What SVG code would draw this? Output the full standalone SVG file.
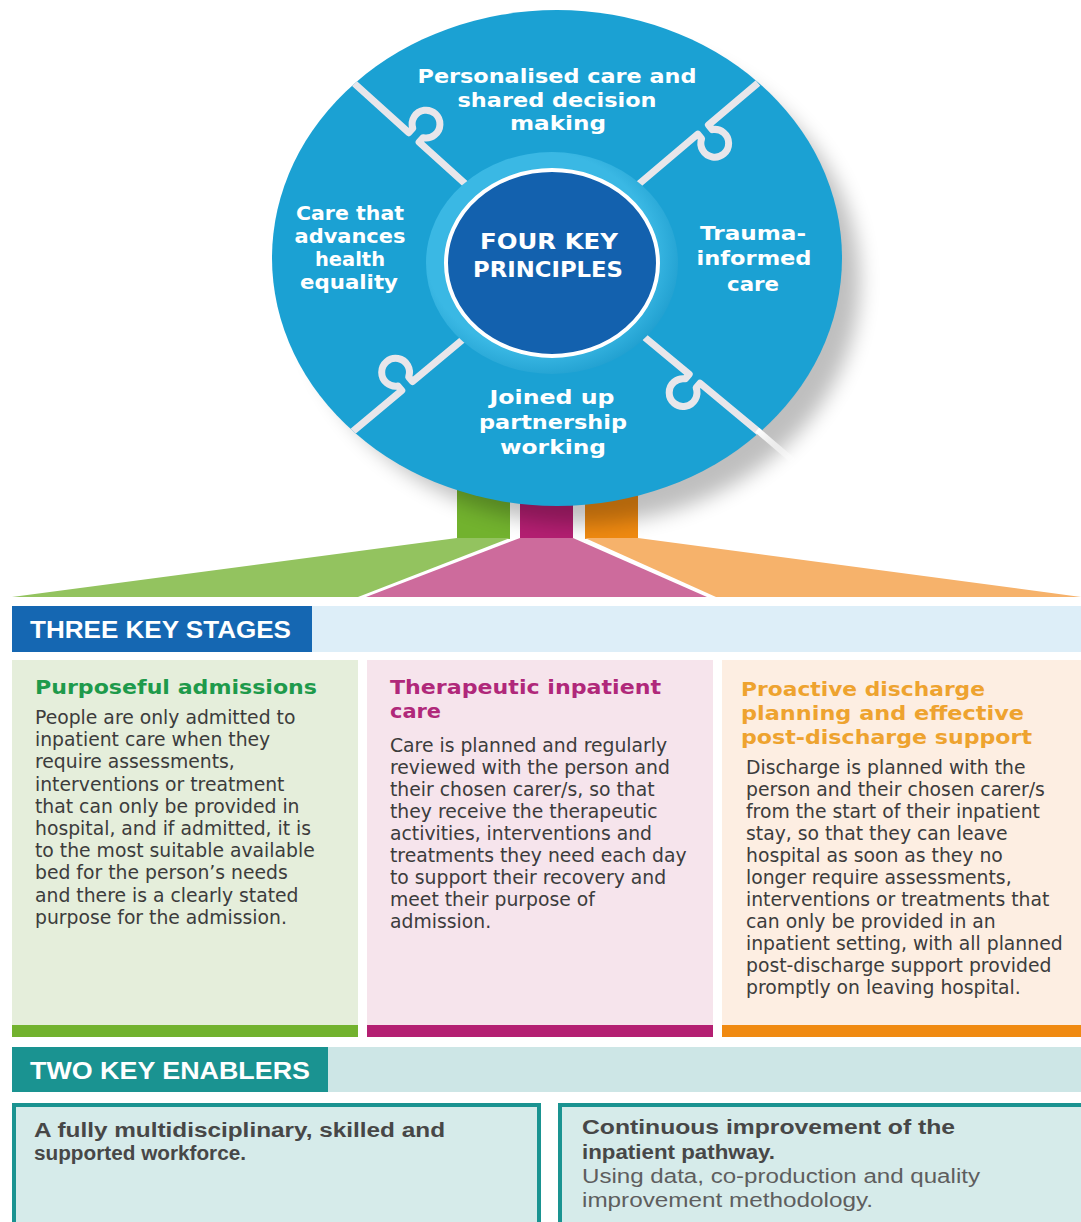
<svg xmlns="http://www.w3.org/2000/svg" width="1081" height="1222" viewBox="0 0 1081 1222">
<defs>
<style>
.ct{font-family:"DejaVu Sans","Open Sans",sans-serif;font-weight:700;fill:#fff;font-size:20px;text-anchor:middle}
.core{font-family:"DejaVu Sans","Open Sans",sans-serif;font-weight:700;fill:#fff;font-size:21px;text-anchor:middle}
.hdr{font-family:"Liberation Sans",Arial,sans-serif;font-weight:700;fill:#fff;font-size:23px}
.st{font-family:"DejaVu Sans","Open Sans",sans-serif;font-weight:700;font-size:20px}
.bd{font-family:"DejaVu Sans","Open Sans",sans-serif;font-size:18.8px;fill:#3c3c3c}
.eb{font-family:"Liberation Sans",Arial,sans-serif;font-weight:700;font-size:20px;fill:#474747}
.er{font-family:"Liberation Sans",Arial,sans-serif;font-size:20px;fill:#5e5e5e}
.div{fill:none;stroke:#e8e6ea;stroke-width:7;stroke-linejoin:round}
</style>
<clipPath id="outerClip"><ellipse cx="557" cy="258" rx="285" ry="248"/></clipPath>
<filter id="blur" x="-20%" y="-20%" width="140%" height="140%"><feGaussianBlur stdDeviation="10"/></filter>
<linearGradient id="streak" x1="0" y1="0" x2="1" y2="1"><stop offset="0" stop-color="#fff" stop-opacity="1"/><stop offset="1" stop-color="#fff" stop-opacity="0"/></linearGradient>
<radialGradient id="halo" cx="0.45" cy="0.45" r="0.6"><stop offset="0.75" stop-color="#3ab8e4"/><stop offset="1" stop-color="#1c9bcc"/></radialGradient>
</defs>
<rect width="1081" height="1222" fill="#fff"/>

<g id="stems">
<rect x="457" y="470" width="53" height="69" fill="#72b22e"/>
<rect x="520" y="470" width="53" height="69" fill="#b41f72"/>
<rect x="585" y="470" width="53" height="69" fill="#f08a11"/>
</g>

<g id="principles">
<ellipse cx="580" cy="281" rx="280" ry="243" fill="#000" opacity="0.25" filter="url(#blur)"/>
<ellipse cx="557" cy="258" rx="285" ry="248" fill="#1ba1d3"/>
<g clip-path="url(#outerClip)">
<path class="div" transform="translate(345,75) rotate(42.15)" d="M0,0 H86 V-6 A13.9,13.9 0 1 1 100,-6 V0 H200"/>
<path class="div" transform="translate(758,83) rotate(139.7)" d="M0,0 H65 V-6 A13.9,13.9 0 1 1 79,-6 V0 H190"/>
<path class="div" transform="translate(345,438) rotate(-39.9)" d="M0,0 H74 V-6 A13.9,13.9 0 1 1 88,-6 V0 H185"/>
<path class="div" transform="translate(760,433) rotate(219.7)" d="M0,0 H78 V-6 A13.9,13.9 0 1 1 92,-6 V0 H185"/>
</g>
<line x1="757" y1="430" x2="805" y2="471" stroke="url(#streak)" stroke-width="6"/>
<ellipse cx="552" cy="263" rx="126" ry="111" fill="url(#halo)"/>
<ellipse cx="552" cy="263" rx="106" ry="93" fill="#1361ae" stroke="#fff" stroke-width="4"/>
<text class="core" x="549" y="249" textLength="138" lengthAdjust="spacingAndGlyphs">FOUR KEY</text>
<text class="core" x="548" y="277" textLength="150" lengthAdjust="spacingAndGlyphs">PRINCIPLES</text>
<text class="ct" x="557" y="82.5" textLength="279" lengthAdjust="spacingAndGlyphs">Personalised care and</text>
<text class="ct" x="557" y="106.5" textLength="199" lengthAdjust="spacingAndGlyphs">shared decision</text>
<text class="ct" x="558" y="129.5" textLength="96" lengthAdjust="spacingAndGlyphs">making</text>
<text class="ct" x="350" y="220" textLength="108" lengthAdjust="spacingAndGlyphs">Care that</text>
<text class="ct" x="350" y="243" textLength="111" lengthAdjust="spacingAndGlyphs">advances</text>
<text class="ct" x="350" y="266" textLength="70" lengthAdjust="spacingAndGlyphs">health</text>
<text class="ct" x="349" y="289" textLength="98" lengthAdjust="spacingAndGlyphs">equality</text>
<text class="ct" x="753" y="240" textLength="106" lengthAdjust="spacingAndGlyphs">Trauma-</text>
<text class="ct" x="754" y="265" textLength="115" lengthAdjust="spacingAndGlyphs">informed</text>
<text class="ct" x="753" y="291" textLength="52" lengthAdjust="spacingAndGlyphs">care</text>
<text class="ct" x="552" y="404" textLength="125" lengthAdjust="spacingAndGlyphs">Joined up</text>
<text class="ct" x="553" y="429" textLength="148" lengthAdjust="spacingAndGlyphs">partnership</text>
<text class="ct" x="553" y="454" textLength="106" lengthAdjust="spacingAndGlyphs">working</text>
</g>

<g id="fan">
<polygon points="457,538 510,538 358,597 12,597" fill="#93c35f"/>
<polygon points="520,538 573,538 707,597 366,597" fill="#cd6b9c"/>
<polygon points="585,538 638,538 1081,597 716,597" fill="#f6b26b"/>
</g>

<g id="stages-header">
<rect x="312" y="606" width="769" height="46" fill="#ddeef8"/>
<rect x="12" y="606" width="300" height="46" fill="#1567b2"/>
<text class="hdr" x="30" y="638" textLength="261" lengthAdjust="spacingAndGlyphs">THREE KEY STAGES</text>
</g>

<g id="stage-purposeful">
<rect x="12" y="660" width="346" height="365" fill="#e5eedb"/>
<rect x="12" y="1025" width="346" height="12" fill="#72b22e"/>
<text class="st" x="35" y="694" fill="#1e9a4b" textLength="282" lengthAdjust="spacingAndGlyphs">Purposeful admissions</text>
<text class="bd" x="35" y="724">People are only admitted to</text>
<text class="bd" x="35" y="746.2">inpatient care when they</text>
<text class="bd" x="35" y="768.4">require assessments,</text>
<text class="bd" x="35" y="790.6">interventions or treatment</text>
<text class="bd" x="35" y="812.8">that can only be provided in</text>
<text class="bd" x="35" y="835">hospital, and if admitted, it is</text>
<text class="bd" x="35" y="857.2">to the most suitable available</text>
<text class="bd" x="35" y="879.4">bed for the person’s needs</text>
<text class="bd" x="35" y="901.6">and there is a clearly stated</text>
<text class="bd" x="35" y="923.8">purpose for the admission.</text>
</g>

<g id="stage-therapeutic">
<rect x="367" y="660" width="346" height="365" fill="#f6e4ec"/>
<rect x="367" y="1025" width="346" height="12" fill="#b41f72"/>
<text class="st" x="390" y="694" fill="#b0287a" textLength="271" lengthAdjust="spacingAndGlyphs">Therapeutic inpatient</text>
<text class="st" x="390" y="718" fill="#b0287a" textLength="51" lengthAdjust="spacingAndGlyphs">care</text>
<text class="bd" x="390" y="752">Care is planned and regularly</text>
<text class="bd" x="390" y="774">reviewed with the person and</text>
<text class="bd" x="390" y="796">their chosen carer/s, so that</text>
<text class="bd" x="390" y="818">they receive the therapeutic</text>
<text class="bd" x="390" y="840">activities, interventions and</text>
<text class="bd" x="390" y="862">treatments they need each day</text>
<text class="bd" x="390" y="884">to support their recovery and</text>
<text class="bd" x="390" y="906">meet their purpose of</text>
<text class="bd" x="390" y="928">admission.</text>
</g>

<g id="stage-discharge">
<rect x="722" y="660" width="359" height="365" fill="#fdeee2"/>
<rect x="722" y="1025" width="359" height="12" fill="#f08a11"/>
<text class="st" x="741" y="696" fill="#eea32f" textLength="244" lengthAdjust="spacingAndGlyphs">Proactive discharge</text>
<text class="st" x="741" y="720" fill="#eea32f" textLength="283" lengthAdjust="spacingAndGlyphs">planning and effective</text>
<text class="st" x="741" y="744" fill="#eea32f" textLength="291" lengthAdjust="spacingAndGlyphs">post-discharge support</text>
<text class="bd" x="746" y="774">Discharge is planned with the</text>
<text class="bd" x="746" y="796">person and their chosen carer/s</text>
<text class="bd" x="746" y="818">from the start of their inpatient</text>
<text class="bd" x="746" y="840">stay, so that they can leave</text>
<text class="bd" x="746" y="862">hospital as soon as they no</text>
<text class="bd" x="746" y="884">longer require assessments,</text>
<text class="bd" x="746" y="906">interventions or treatments that</text>
<text class="bd" x="746" y="928">can only be provided in an</text>
<text class="bd" x="746" y="950">inpatient setting, with all planned</text>
<text class="bd" x="746" y="972">post-discharge support provided</text>
<text class="bd" x="746" y="994">promptly on leaving hospital.</text>
</g>

<g id="enablers-header">
<rect x="328" y="1047" width="753" height="45" fill="#cde6e6"/>
<rect x="12" y="1047" width="316" height="45" fill="#1a9391"/>
<text class="hdr" x="30" y="1079" textLength="280" lengthAdjust="spacingAndGlyphs">TWO KEY ENABLERS</text>
</g>

<g id="enabler-workforce">
<rect x="14" y="1105" width="525" height="130" fill="#d6ebea" stroke="#1a9391" stroke-width="4"/>
<text class="eb" x="34" y="1137" textLength="411" lengthAdjust="spacingAndGlyphs">A fully multidisciplinary, skilled and</text>
<text class="eb" x="34" y="1160" textLength="212" lengthAdjust="spacingAndGlyphs">supported workforce.</text>
</g>

<g id="enabler-improvement">
<rect x="560" y="1105" width="530" height="130" fill="#d6ebea" stroke="#1a9391" stroke-width="4"/>
<text class="eb" x="582" y="1134" textLength="373" lengthAdjust="spacingAndGlyphs">Continuous improvement of the</text>
<text class="eb" x="582" y="1159" textLength="193" lengthAdjust="spacingAndGlyphs">inpatient pathway.</text>
<text class="er" x="582" y="1183" textLength="398" lengthAdjust="spacingAndGlyphs">Using data, co-production and quality</text>
<text class="er" x="582" y="1207" textLength="291" lengthAdjust="spacingAndGlyphs">improvement methodology.</text>
</g>
</svg>
